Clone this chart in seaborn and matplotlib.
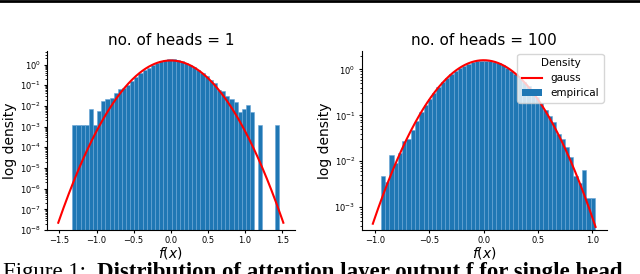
import matplotlib
matplotlib.use("Agg")
import matplotlib.pyplot as plt
import numpy as np
import pandas as pd
import seaborn as sns
from matplotlib.lines import Line2D
from matplotlib.patches import Patch
from matplotlib.ticker import LogLocator


# empirical densities, 50 equal bins per panel
left_range = (-1.326, 1.457)
left_dens = [1.2e-3, 1.2e-3, 1.2e-3, 1.2e-3, 7.2e-3, 1.2e-3, 6.0e-3, 0.018, 0.021, 0.024,
             0.042, 0.066, 0.074, 0.107, 0.17, 0.25, 0.38, 0.54, 0.72, 0.95,
             1.25, 1.55, 1.75, 1.92, 1.92, 1.75, 1.45, 1.2, 0.98, 0.76,
             0.56, 0.41, 0.27, 0.19, 0.13, 0.061, 0.051, 0.029, 0.021, 0.015,
             4.9e-3, 7.0e-3, 0.011, 4.9e-3, 0, 1.2e-3, 0, 0, 0, 1.2e-3]

right_range = (-0.947, 1.023)
right_dens = [4.9e-3, 3.6e-3, 0.0136, 9.3e-3, 0.0148, 0.027, 0.030, 0.048, 0.075, 0.118,
              0.166, 0.23, 0.31, 0.41, 0.52, 0.64, 0.78, 0.92, 1.07, 1.20,
              1.33, 1.43, 1.50, 1.55, 1.56, 1.52, 1.45, 1.35, 1.22, 1.08,
              0.94, 0.80, 0.66, 0.54, 0.43, 0.33, 0.25, 0.185, 0.13, 0.095,
              0.072, 0.040, 0.031, 0.020, 0.0125, 4.8e-3, 3.3e-3, 6.6e-3, 1.6e-3, 1.6e-3]

n_bins = 50

# fitted gaussian shown in red
gauss_mu = 0.0
gauss_sigma = 0.252
left_span = (-1.515, 1.515)
right_span = (-1.02, 1.03)

titles = ["no. of heads = 1", "no. of heads = 100"]
ylims = [(1e-8, 4.7), (3.2e-4, 2.55)]

BLUE = "#1f77b4"

fig = plt.figure(figsize=(6.4, 2.74), dpi=100)
ax1 = fig.add_axes([47 / 640, 44 / 274, 247.6 / 640, 179.3 / 274])
ax2 = fig.add_axes([361.7 / 640, 44 / 274, 245 / 640, 179.3 / 274])


def panel(ax, dens, rng, span, title, ylim):
    width = (rng[1] - rng[0]) / n_bins
    centers = rng[0] + width * (np.arange(n_bins) + 0.5)
    df = pd.DataFrame({"x": centers, "w": dens})
    sns.histplot(data=df, x="x", weights="w", bins=n_bins, binrange=rng, stat="count",
                 color=BLUE, alpha=1, edgecolor="#6aa6d6", linewidth=0.4, ax=ax)
    xs = np.linspace(span[0], span[1], 300)
    ys = np.exp(-(xs - gauss_mu) ** 2 / (2 * gauss_sigma ** 2)) / (gauss_sigma * np.sqrt(2 * np.pi))
    sns.lineplot(x=xs, y=ys, color="red", linewidth=1.5, ax=ax)
    ax.set_yscale("log")
    ax.set_ylim(*ylim)
    margin = 0.05 * (span[1] - span[0])
    ax.set_xlim(span[0] - margin, span[1] + margin)
    ax.yaxis.set_major_locator(LogLocator(base=10, numticks=20))
    ax.yaxis.set_minor_locator(LogLocator(base=10, subs=np.arange(2, 10), numticks=20))
    ax.set_title(title, fontsize=11, pad=4)
    ax.set_xlabel("$f(x)$", fontsize=10, labelpad=0)
    ax.set_ylabel("log density", fontsize=10, labelpad=2)
    ax.tick_params(axis="both", which="major", labelsize=6, length=2.5, width=0.8, pad=2)
    ax.tick_params(axis="both", which="minor", length=1.5, width=0.6)
    sns.despine(ax=ax)


panel(ax1, left_dens, left_range, left_span, titles[0], ylims[0])
panel(ax2, right_dens, right_range, right_span, titles[1], ylims[1])
ax1.set_xticks([-1.5, -1.0, -0.5, 0.0, 0.5, 1.0, 1.5])
ax2.set_xticks([-1.0, -0.5, 0.0, 0.5, 1.0])

handles = [Line2D([0], [0], color="red", linewidth=1.5), Patch(facecolor=BLUE)]
ax2.legend(handles, ["gauss", "empirical"], title="Density", loc="upper right",
           fontsize=7.5, title_fontsize=7.5, borderaxespad=0.3)

# page rule above and clipped caption below, as in the source page
fig.add_artist(Line2D([0, 1], [1 - 1.3 / 274, 1 - 1.3 / 274], color="black", linewidth=2))
fig.text(3 / 640, -4 / 274, "Figure 1:", family="Liberation Serif", fontsize=16.5)
fig.text(97 / 640, -4 / 274, "Distribution of attention layer output f for single head",
         family="Liberation Serif", fontweight="bold", fontsize=16.5)

fig.savefig("out.png", dpi=100)
